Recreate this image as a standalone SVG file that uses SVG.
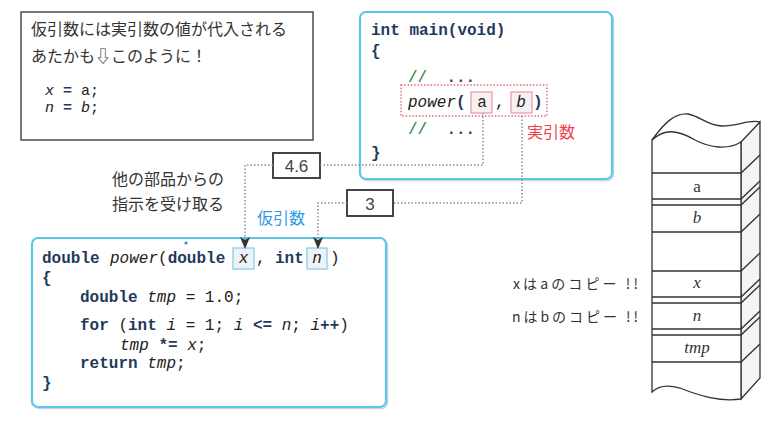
<svg xmlns="http://www.w3.org/2000/svg" width="774" height="432" viewBox="0 0 774 432">
<defs>
<style>
.jp{font-family:"Noto Sans CJK JP","Noto Sans",sans-serif;font-size:16px;fill:#333}
.code{font-family:"Liberation Mono","DejaVu Sans Mono",monospace;font-size:16px;fill:#222}
.kw{font-weight:bold;fill:#1f3a5c}
.it{font-style:italic}
.cm{fill:#2e7d32}
.cbox{fill:#fff;stroke:#5bc6ee;stroke-width:2.2}
.shadow{fill:none;stroke:#c9d3d8;stroke-width:1.5}
.dot{fill:none;stroke:#8a8a8a;stroke-width:1.5;stroke-dasharray:1.5 2}
.valbox{fill:#fff;stroke:#444;stroke-width:2}
.val{font-family:"Liberation Sans",Arial,sans-serif;font-size:17px;fill:#444;text-anchor:middle}
.stk{fill:none;stroke:#333;stroke-width:1.3}
.slab{font-family:"Liberation Serif","Times New Roman",serif;font-style:italic;font-size:17px;fill:#333;text-anchor:middle}
</style>
<marker id="arr" viewBox="0 0 12 10" refX="11" refY="5" markerWidth="12" markerHeight="10" markerUnits="userSpaceOnUse" orient="auto">
<path d="M0,0 L12,5 L0,10 L3,5 Z" fill="#333"/>
</marker>
</defs>
<rect width="774" height="432" fill="#fff"/>

<g id="note">
<rect x="21" y="12" width="292" height="128" fill="#fff" stroke="#555" stroke-width="1.6"/>
<text class="jp" x="31" y="35">仮引数には実引数の値が代入される</text>
<text class="jp" x="31" y="62">あたかも⇩このように！</text>
<text class="code" style="font-size:15px" x="45" y="95" xml:space="preserve"><tspan class="it">x</tspan> <tspan class="kw">=</tspan> a;</text>
<text class="code" style="font-size:15px" x="45" y="112" xml:space="preserve"><tspan class="it">n</tspan> <tspan class="kw">=</tspan> <tspan class="it">b</tspan>;</text>
</g>

<g id="main">
<rect class="shadow" x="361.5" y="13.5" width="252" height="167" rx="6"/>
<rect class="cbox" x="360" y="12" width="252" height="167" rx="6"/>
<text class="code" x="371" y="35" xml:space="preserve"><tspan class="kw">int main(void)</tspan></text>
<text class="code kw" x="371" y="56">{</text>
<text class="code" x="408" y="82" xml:space="preserve"><tspan class="cm">//</tspan>  <tspan fill="#445" font-weight="bold">...</tspan></text>
<rect x="401" y="85" width="146" height="31" fill="#fff" stroke="#e06a78" stroke-width="1.4" stroke-dasharray="1.5 1.8"/>
<rect x="471" y="92" width="21" height="21" fill="#f6f0f1" stroke="#e59aa5" stroke-width="1.2"/>
<rect x="511" y="92" width="21" height="21" fill="#f6f0f1" stroke="#e59aa5" stroke-width="1.2"/>
<text class="code" x="408" y="107"><tspan class="it">power</tspan><tspan class="kw">(</tspan></text>
<text class="code" x="482" y="107" text-anchor="middle">a</text>
<text class="code" x="495" y="107">,</text>
<text class="code it" x="521" y="107" text-anchor="middle">b</text>
<text class="code kw" x="533" y="107">)</text>
<text class="code" x="408" y="134" xml:space="preserve"><tspan class="cm">//</tspan>  <tspan fill="#445" font-weight="bold">...</tspan></text>
<text class="code kw" x="371" y="158">}</text>
</g>

<g id="label-actual">
<text class="jp" x="527" y="138" style="fill:#f0414b">実引数</text>
</g>

<g id="label-other">
<text class="jp" x="112" y="185">他の部品からの</text>
<text class="jp" x="112" y="210">指示を受け取る</text>
</g>

<g id="label-formal">
<text class="jp" x="257" y="224" style="fill:#2f9be0">仮引数</text>
</g>

<g id="val46">
<rect class="valbox" x="273" y="153" width="47" height="25"/>
<text class="val" x="296.5" y="172">4.6</text>
</g>

<g id="val3">
<rect class="valbox" x="347" y="190" width="46" height="26"/>
<text class="val" x="370" y="210">3</text>
</g>

<g id="power">
<rect class="shadow" x="33.5" y="239.5" width="354" height="169" rx="6"/>
<rect class="cbox" x="32" y="238" width="354" height="169" rx="6"/>
<circle cx="186" cy="243" r="1.6" fill="#2a8fd8"/>
<rect x="233" y="248" width="21" height="21" fill="#eef3f5" stroke="#7fcbe6" stroke-width="1.2"/>
<rect x="307" y="248" width="20" height="21" fill="#eef3f5" stroke="#7fcbe6" stroke-width="1.2"/>
<text class="code" x="42" y="263"><tspan class="kw">double</tspan></text>
<text class="code" x="110" y="263"><tspan class="it">power</tspan>(<tspan class="kw">double</tspan></text>
<text class="code it" x="243.5" y="263" text-anchor="middle">x</text>
<text class="code" x="256" y="263">,</text>
<text class="code kw" x="275" y="263">int</text>
<text class="code it" x="317" y="263" text-anchor="middle">n</text>
<text class="code" x="330" y="263">)</text>
<text class="code kw" x="42" y="283">{</text>
<text class="code" x="80" y="302" xml:space="preserve"><tspan class="kw">double</tspan> <tspan class="it">tmp</tspan> = 1.0;</text>
<text class="code" x="80" y="330" xml:space="preserve"><tspan class="kw">for</tspan> (<tspan class="kw">int</tspan> <tspan class="it">i</tspan> = 1; <tspan class="it">i</tspan> <tspan class="kw">&lt;=</tspan> <tspan class="it">n</tspan>; <tspan class="it">i</tspan><tspan class="kw">++</tspan>)</text>
<text class="code" x="120" y="350" xml:space="preserve"><tspan class="it">tmp</tspan> <tspan class="kw">*=</tspan> <tspan class="it">x</tspan>;</text>
<text class="code" x="80" y="368" xml:space="preserve"><tspan class="kw">return</tspan> <tspan class="it">tmp</tspan>;</text>
<text class="code kw" x="42" y="388">}</text>
</g>

<g id="connectors">
<path class="dot" d="M483,113 V165 H320"/>
<path class="dot" d="M273,165 H245 V248" marker-end="url(#arr)"/>
<path class="dot" d="M522,116 V203 H393"/>
<path class="dot" d="M347,203 H318 V248" marker-end="url(#arr)"/>
</g>

<g id="copy-notes">
<text class="jp" style="font-size:14px" x="513" y="289" textLength="125" lengthAdjust="spacing">xはaのコピー !!</text>
<text class="jp" style="font-size:14px" x="512" y="322" textLength="126" lengthAdjust="spacing">nはbのコピー !!</text>
</g>

<g id="stack">
<path d="M741,142 L760,122 L760,378 L741,399 Z" fill="#f4f4f4" stroke="#333" stroke-width="1.3"/>
<path d="M652,140 C665,128 678,130 695,140 C710,148 728,150 741,142 L741,399 C720,402 700,396 680,388 C666,384 658,386 652,392 Z" fill="#fff" stroke="#333" stroke-width="1.3"/>
<path class="stk" d="M652,140 C665,122 675,113 688,114 C700,116 708,126 722,126 C738,126 750,119 760,122"/>
<path class="stk" d="M652,173 H741 L760,155 M652,199 H741 L760,181 M652,205 H741 L760,187 M652,232 H741 L760,214 M652,271 H741 L760,253 M652,297 H741 L760,279 M652,303 H741 L760,285 M652,329 H741 L760,311 M652,335 H741 L760,317 M652,362 H741 L760,344"/>
<text class="slab" x="697" y="192" style="font-style:normal">a</text>
<text class="slab" x="697" y="223">b</text>
<text class="slab" x="697" y="288">x</text>
<text class="slab" x="697" y="321">n</text>
<text class="slab" x="697" y="353">tmp</text>
</g>
</svg>
